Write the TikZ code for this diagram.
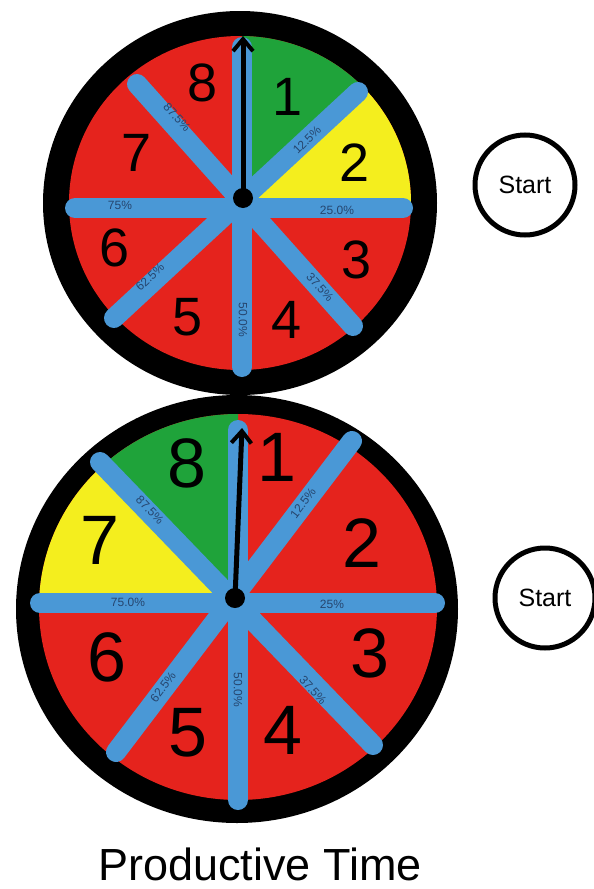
\documentclass[tikz,border=0pt]{standalone}
\usepackage{fontspec}
\setmainfont{Liberation Sans}
\usetikzlibrary{arrows.meta}

\definecolor{wheelred}{HTML}{E5231D}
\definecolor{wheelgreen}{HTML}{1FA33A}
\definecolor{wheelyellow}{HTML}{F4EE1E}
\definecolor{spokeblue}{HTML}{4A98D6}
\definecolor{pcttext}{HTML}{26466F}

\begin{document}
\begin{tikzpicture}[x=1pt, y=1pt,
    spoke/.style={draw=spokeblue, line width=20pt, line cap=round},
    digit/.style={font=\fontsize{#1}{#1}\selectfont, inner sep=0pt},
    pct/.style={text=pcttext, font=\fontsize{12}{12}\selectfont, inner sep=0pt},
    pivot/.style={circle, fill=black, minimum size=20pt, inner sep=0pt},
    hand/.style={line width=5pt, -{Straight Barb[length=12pt, width=20pt, line width=4pt]}},
    startbtn/.style={circle, draw, line width=5pt, minimum size=100pt, inner sep=0pt, font=\fontsize{25}{25}\selectfont}]
    \useasboundingbox (0,0) rectangle (594,-889);

    % top wheel
    \fill[black] (240,-203) ellipse[x radius=197, y radius=192];
    \fill[wheelred] (240,-203) ellipse[x radius=171, y radius=167];
    \begin{scope}
        \clip (240,-203) ellipse[x radius=171, y radius=167];
        \fill[wheelgreen] (242,-207) -- +(90:300) -- +(45:300) -- cycle;
        \fill[wheelyellow] (242,-207) -- +(45:300) -- +(0:300) -- cycle;
    \end{scope}
    \draw[spoke] (75,-208) -- (403,-208);
    \draw[spoke] (242,-47) -- (242,-367);
    \draw[spoke] (137,-84) -- (353,-326);
    \draw[spoke] (358,-92) -- (114,-318);
    \foreach \n/\x/\y in {1/288/97, 2/355/163, 3/357/260, 4/287/320, 5/188/317, 6/115/248, 7/137/153, 8/203/83}
        \node[digit=54] (t\n) at (\x,-\y) {\n};
    \foreach \p/\x/\y/\r [count=\i] in {12.5/307/140/45, 25.0/337/210/0, 37.5/320/287/-48, 50.0/243/320/-90, 62.5/150/277/43, 75/120/205/0, 87.5/177/117/-48}
        \node[pct, rotate=\r] (tp\i) at (\x,-\y) {\p\%};
    \node[pivot] (tpiv) at (243,-198) {};
    \coordinate (ttip) at (243,-36);
    \draw[hand] (tpiv.center) -- (ttip);

    % bottom wheel
    \fill[black] (237,-609) ellipse[x radius=221, y radius=214];
    \fill[wheelred] (238,-607) ellipse[x radius=199, y radius=193];
    \begin{scope}
        \clip (238,-607) ellipse[x radius=199, y radius=193];
        \fill[wheelgreen] (238,-603) -- +(90:300) -- +(134:300) -- cycle;
        \fill[wheelyellow] (238,-603) -- +(134:300) -- +(180:300) -- cycle;
    \end{scope}
    \draw[spoke] (40,-603) -- (435,-603);
    \draw[spoke] (238,-430) -- (238,-800);
    \draw[spoke] (100,-462) -- (373,-745);
    \draw[spoke] (352,-441) -- (116,-752);
    \foreach \n/\x/\y in {1/277/457, 2/362/543, 3/370/653, 4/283/730, 5/188/733, 6/107/657, 7/100/540, 8/187/463}
        \node[digit=70] (b\n) at (\x,-\y) {\n};
    \foreach \p/\x/\y/\r [count=\i] in {12.5/303/503/53, 25/332/604/0, 37.5/313/690/-48, 50.0/238/690/-90, 62.5/163/687/53, 75.0/128/602/0, 87.5/150/510/-46}
        \node[pct, rotate=\r] (bp\i) at (\x,-\y) {\p\%};
    \node[pivot] (bpiv) at (235,-598) {};
    \coordinate (btip) at (242,-428);
    \draw[hand] (bpiv.center) -- (btip);

    % start buttons
    \node[startbtn] (start1) at (525,-185) {Start};
    \node[startbtn] (start2) at (545,-598) {Start};

    \node[anchor=base, inner sep=0pt, font=\fontsize{45}{45}\selectfont] (title) at (260,-880) {Productive Time};
\end{tikzpicture}
\end{document}
